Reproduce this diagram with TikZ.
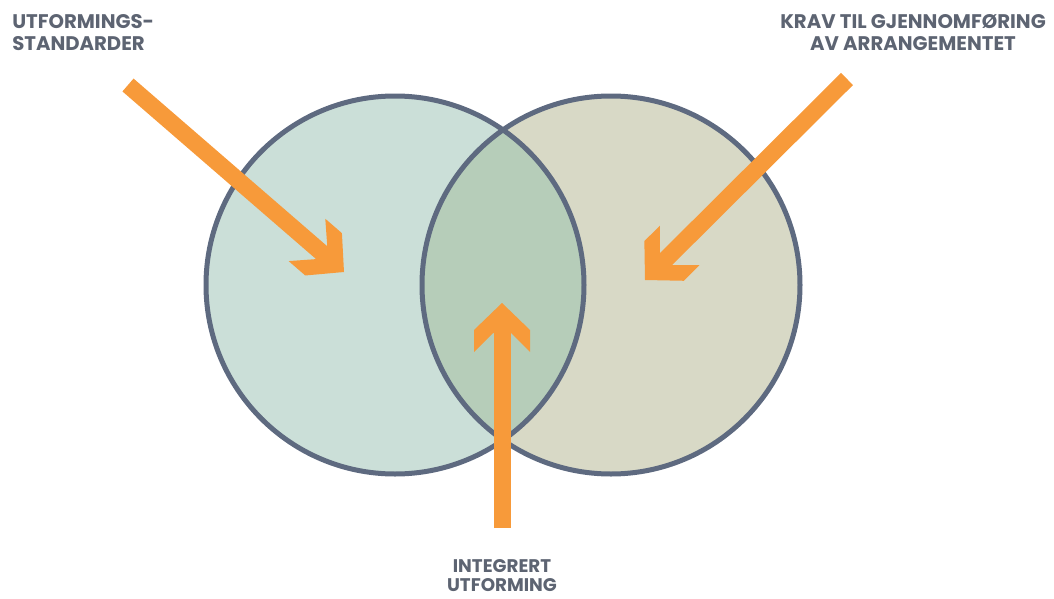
\documentclass[tikz,border=0pt]{standalone}
\usepackage{fontspec}
\setmainfont{Poppins}
\usetikzlibrary{arrows.meta}
\definecolor{leftfill}{HTML}{CBDFD8}
\definecolor{rightfill}{HTML}{D8D9C6}
\definecolor{bothfill}{HTML}{B6CDB9}
\definecolor{ringline}{HTML}{5E6A80}
\definecolor{arroworange}{HTML}{F79A3A}
\definecolor{labelgrey}{HTML}{5D6472}
\tikzset{
  pics/chevron/.style={code={
    \fill[arroworange] (0,0) -- (-27,28) -- (-49,28) -- (-30,9) -- (-30,-9) -- (-49,-28) -- (-27,-28) -- cycle;
  }}
}

\begin{document}
\begin{tikzpicture}[x=0.025cm, y=-0.025cm,
    ring/.style={draw=ringline, line width=0.125cm},
    shaft/.style={draw=arroworange, line width=0.425cm, shorten >=0.5cm},
    heading/.style={text=labelgrey, inner sep=0pt, font=\fontsize{14}{15.6}\selectfont\bfseries}]
    \useasboundingbox (0,0) rectangle (1054,599);
    \coordinate (cl) at (395,285);
    \coordinate (cr) at (611,285);
    \fill[leftfill] (cl) circle[radius=189];
    \fill[rightfill] (cr) circle[radius=189];
    \begin{scope}
      \clip (cl) circle[radius=189];
      \fill[bothfill] (cr) circle[radius=189];
    \end{scope}
    \draw[ring] (cl) circle[radius=189];
    \draw[ring] (cr) circle[radius=189];
    \coordinate (startL) at (128,85);
    \coordinate (tipL) at (344,272);
    \coordinate (startR) at (847,79);
    \coordinate (tipR) at (645,280);
    \coordinate (startM) at (502,528);
    \coordinate (tipM) at (502,303);
    \draw[shaft] (startL) -- (tipL);
    \draw[shaft] (startR) -- (tipR);
    \draw[shaft] (startM) -- (tipM);
    \pic[rotate=-40.9] at (tipL) {chevron};
    \pic[rotate=-135.1] at (tipR) {chevron};
    \pic[rotate=90] at (tipM) {chevron};
    \node[heading, anchor=north west, align=left] (standards) at (12,14) {UTFORMINGS-\\STANDARDER};
    \node[heading, anchor=north, align=center] (demands) at (913,14) {KRAV TIL GJENNOMFØRING\\AV ARRANGEMENTET};
    \node[heading, anchor=north, align=center, font=\fontsize{13}{13.5}\selectfont\bfseries] (integrated) at (502,559) {INTEGRERT\\UTFORMING};
\end{tikzpicture}
\end{document}
